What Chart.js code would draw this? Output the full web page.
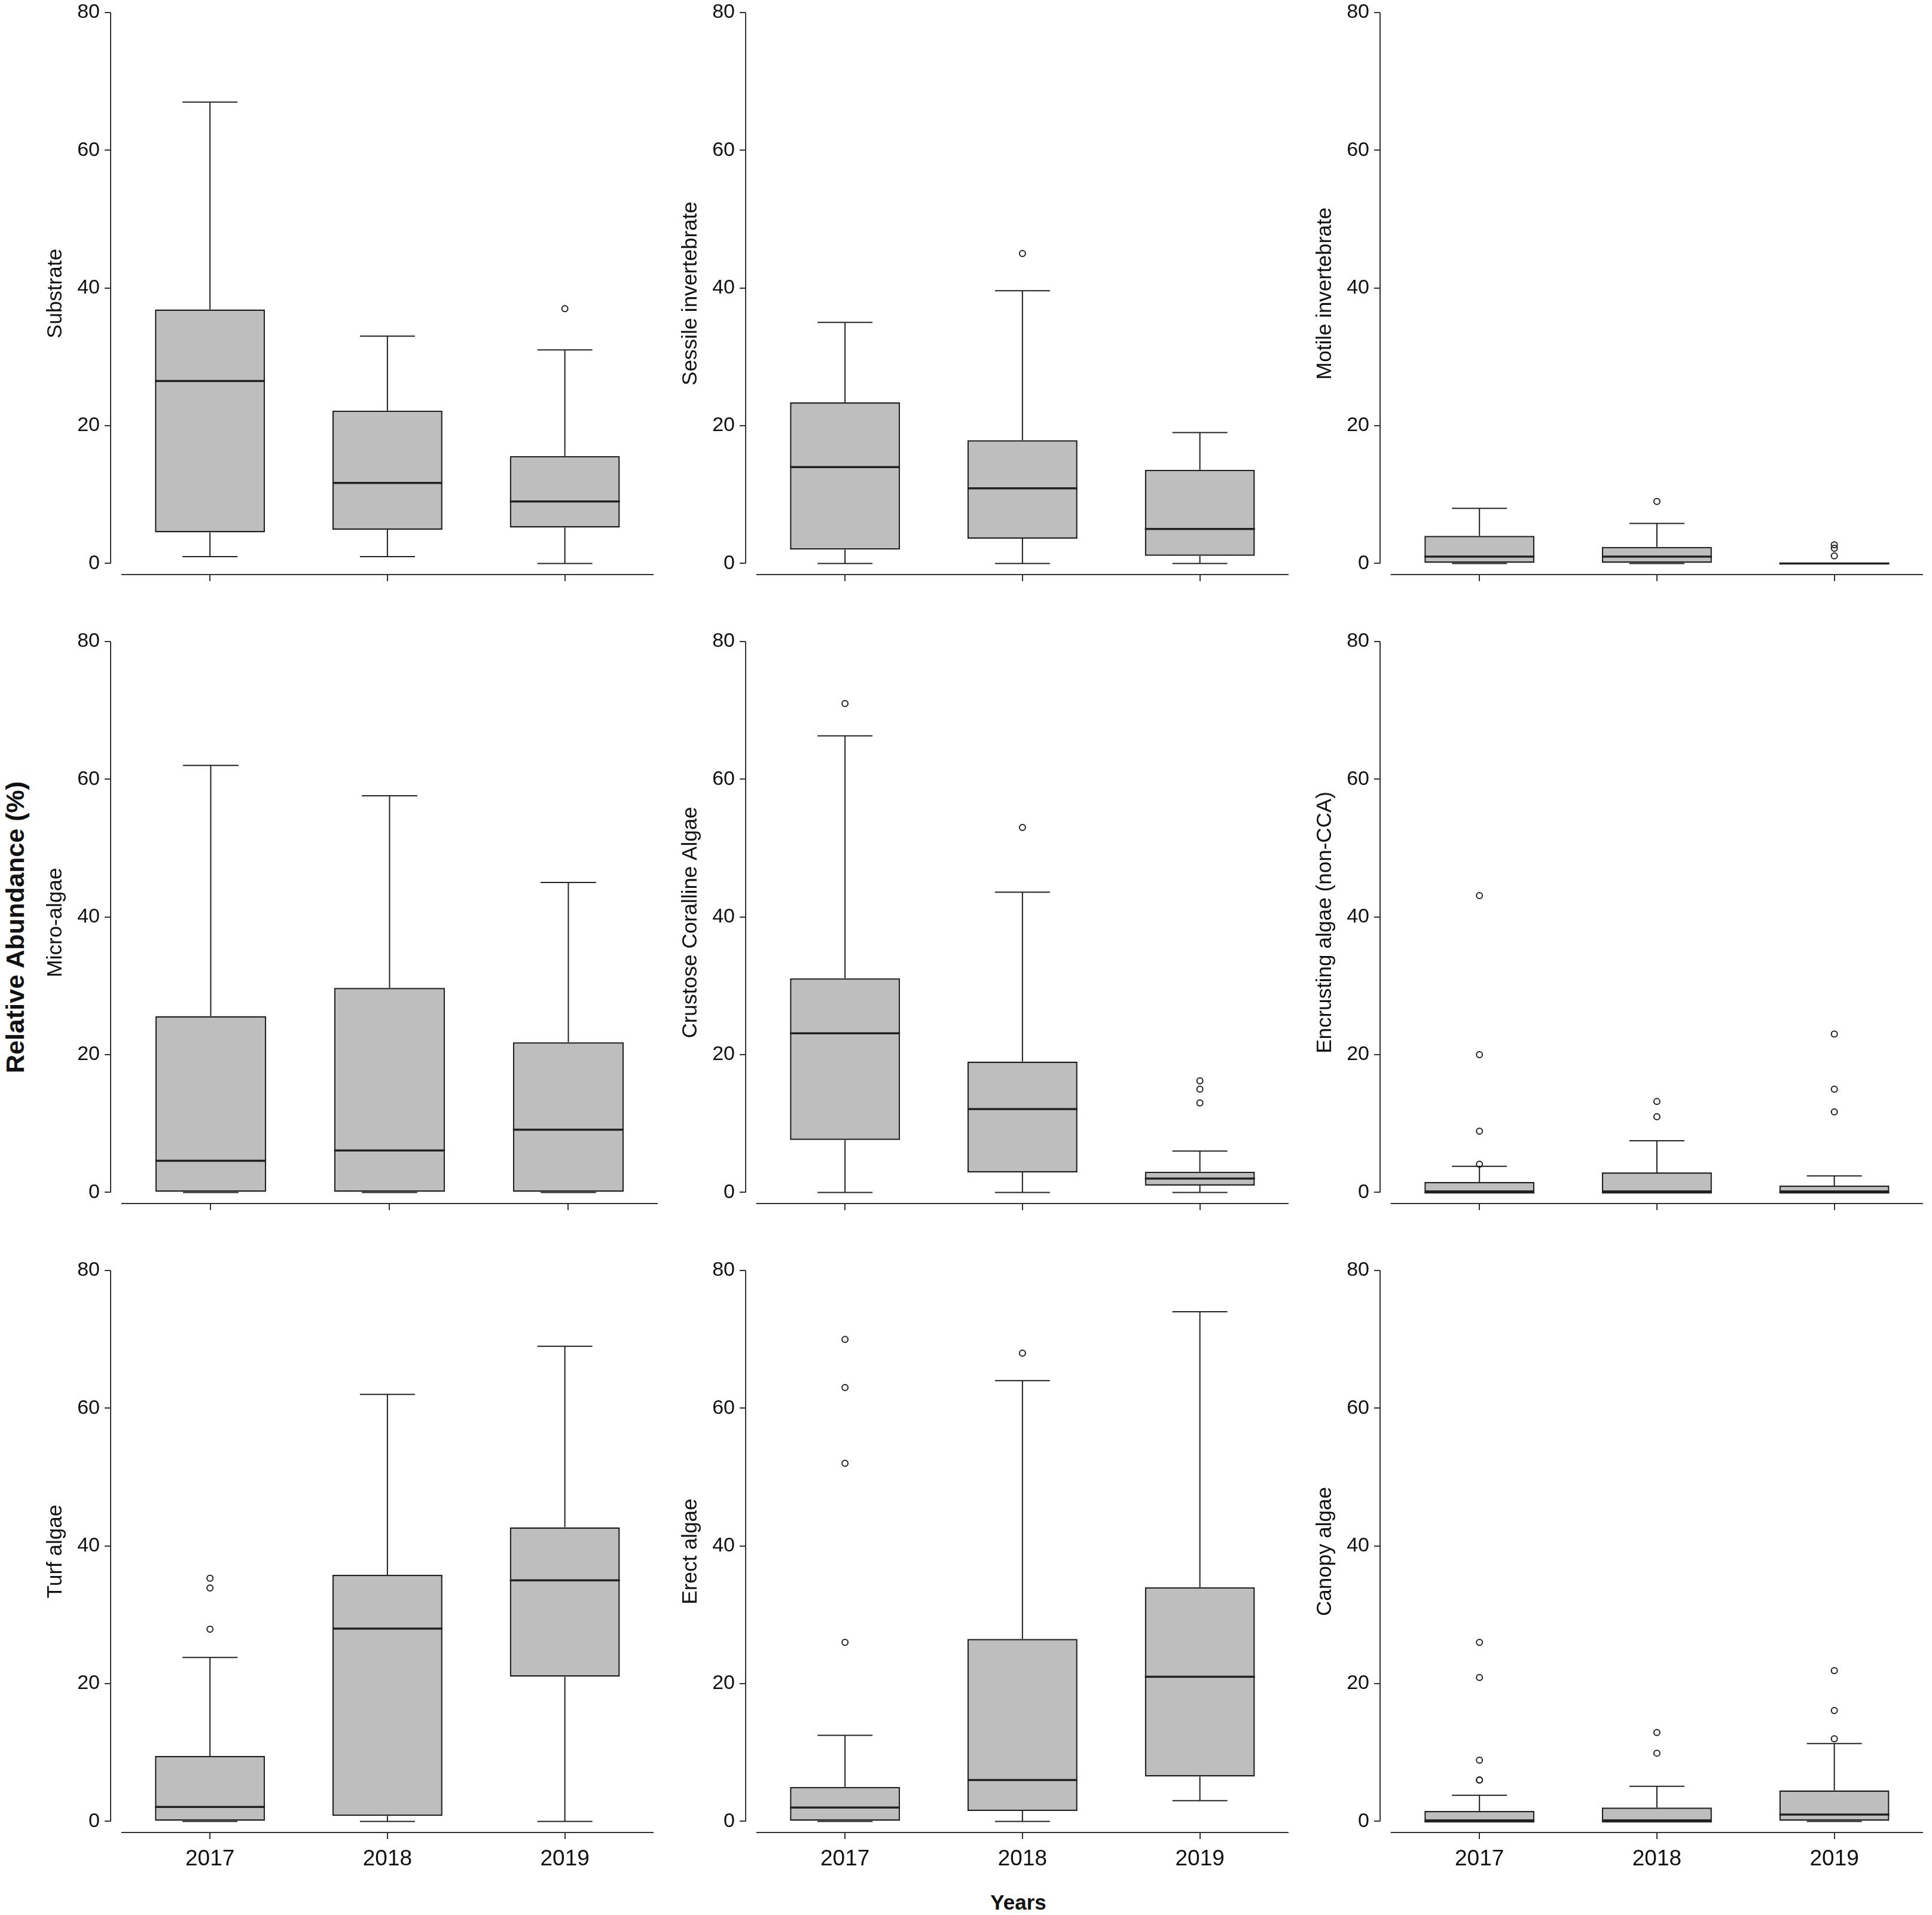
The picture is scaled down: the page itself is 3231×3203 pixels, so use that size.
<!DOCTYPE html>
<html>
<head>
<meta charset="utf-8">
<script src="https://cdn.jsdelivr.net/npm/chart.js@4.4.1/dist/chart.umd.min.js"></script>
<style>
body { margin:0; background:#fff; width:3231px; height:3203px; position:relative; overflow:hidden; font-family:"Liberation Sans", Arial, sans-serif; }
canvas { position:absolute; }
.label { position:absolute; font-weight:bold; white-space:nowrap; line-height:1; color:#111; transform:translate(-50%,-50%); }
</style>
</head>
<body>
<div class="label" style="left:25px; top:1551px; font-size:43px; transform:translate(-50%,-50%) rotate(-90deg);">Relative Abundance (%)</div>
<div class="label" style="left:1703px; top:3181px; font-size:35px;">Years</div>
<script>
const years = ['2017', '2018', '2019'];
const panelTitles = ['Substrate', 'Sessile invertebrate', 'Motile invertebrate',
                     'Micro-algae', 'Crustose Coralline Algae', 'Encrusting algae (non-CCA)',
                     'Turf algae', 'Erect algae', 'Canopy algae'];
const yTicks = [0, 20, 40, 60, 80];

// one row per panel, one value per year
const whiskerLow = [[1, 1, 0], [0, 0, 0], [0, 0, 0],
                    [0, 0, 0], [0, 0, 0], [0, 0, 0],
                    [0, 0, 0], [0, 0, 3], [0, 0, 0]];
const q1 = [[4.5, 4.9, 5.2], [2, 3.6, 1.1], [0, 0, 0],
            [0, 0, 0], [7.6, 2.9, 1], [0, 0, 0],
            [0, 0.8, 21], [0, 1.5, 6.5], [0, 0, 0]];
const median = [[26.5, 11.7, 9], [14, 10.9, 5], [1, 1, 0],
                [4.6, 6.1, 9.1], [23.1, 12.1, 2], [0, 0, 0],
                [2.1, 28, 35], [2, 6, 21], [0, 0, 1]];
const q3 = [[36.9, 22.2, 15.6], [23.4, 17.9, 13.6], [4, 2.4, 0],
            [25.6, 29.7, 21.8], [31.1, 19, 3], [1.5, 2.9, 1],
            [9.5, 35.8, 42.7], [5, 26.5, 34], [1.5, 2, 4.5]];
const whiskerHigh = [[67, 33, 31], [35, 39.6, 19], [8, 5.8, 0],
                     [62, 57.6, 45], [66.3, 43.6, 6], [3.8, 7.5, 2.4],
                     [23.8, 62, 69], [12.5, 64, 74], [3.8, 5.1, 11.3]];
const outliers = [[[], [], [37]], [[], [45], []], [[], [9], [2.7, 2.2, 1.1]],
                  [[], [], []], [[71], [53], [16.2, 15, 13]], [[43.1, 20, 8.9, 4.1], [13.2, 11], [23, 15, 11.7]],
                  [[35.3, 33.9, 27.9], [], []], [[70, 63, 52, 26], [68], []], [[26, 20.9, 8.9, 6, 6], [12.9, 9.9], [21.9, 16.1, 12]]];

Chart.defaults.font.family = '"Liberation Sans", Arial, sans-serif';

const AXIS_W = 130;
const PLOT_W = 915;
const PLOT_H = 940;
const colX = [185, 1246.5, 2308];
const rowTop = [20.6, 1072.6, 2124.6];
const lineColor = '#222';

function boxPlugin(p) {
    return {
        id: 'boxparts',
        beforeDatasetsDraw(chart) {
            const ctx = chart.ctx;
            const x = chart.scales.x, y = chart.scales.y;
            const bars = chart.getDatasetMeta(0).data;
            ctx.save();
            ctx.strokeStyle = lineColor;
            ctx.lineWidth = 2;
            for (let i = 0; i < years.length; i++) {
                const cx = x.getPixelForValue(i + 1);
                const cap = bars[i].width / 4;
                ctx.beginPath();
                ctx.moveTo(cx, y.getPixelForValue(q3[p][i]));
                ctx.lineTo(cx, y.getPixelForValue(whiskerHigh[p][i]));
                ctx.moveTo(cx, y.getPixelForValue(q1[p][i]));
                ctx.lineTo(cx, y.getPixelForValue(whiskerLow[p][i]));
                ctx.moveTo(cx - cap, y.getPixelForValue(whiskerHigh[p][i]));
                ctx.lineTo(cx + cap, y.getPixelForValue(whiskerHigh[p][i]));
                ctx.moveTo(cx - cap, y.getPixelForValue(whiskerLow[p][i]));
                ctx.lineTo(cx + cap, y.getPixelForValue(whiskerLow[p][i]));
                ctx.stroke();
            }
            ctx.restore();
        },
        afterDatasetsDraw(chart) {
            const ctx = chart.ctx;
            const x = chart.scales.x, y = chart.scales.y;
            const bars = chart.getDatasetMeta(0).data;
            ctx.save();
            ctx.strokeStyle = lineColor;
            ctx.lineWidth = 3.5;
            for (let i = 0; i < years.length; i++) {
                const cx = x.getPixelForValue(i + 1);
                const half = bars[i].width / 2;
                ctx.beginPath();
                ctx.moveTo(cx - half, y.getPixelForValue(median[p][i]));
                ctx.lineTo(cx + half, y.getPixelForValue(median[p][i]));
                ctx.stroke();
            }
            // R style detached axes
            const area = chart.chartArea;
            ctx.strokeStyle = '#333';
            ctx.lineWidth = 2;
            ctx.beginPath();
            ctx.moveTo(area.left, y.getPixelForValue(0));
            ctx.lineTo(area.left, y.getPixelForValue(80));
            ctx.moveTo(x.getPixelForValue(0.5), area.bottom);
            ctx.lineTo(x.getPixelForValue(3.5), area.bottom);
            ctx.stroke();
            ctx.restore();
        }
    };
}

function zeroPadding(s) {
    s.paddingLeft = 0;
    s.paddingRight = 0;
    s.paddingTop = 0;
    s.paddingBottom = 0;
}

function drawPanel(p) {
    const row = Math.floor(p / 3), col = p % 3;
    const bottomRow = row == 2;
    const xH = bottomRow ? 90 : 40;
    const canvas = document.createElement('canvas');
    canvas.width = AXIS_W + PLOT_W;
    canvas.height = 20 + PLOT_H + xH;
    canvas.style.width = canvas.width + 'px';
    canvas.style.height = canvas.height + 'px';
    canvas.style.left = (colX[col] - AXIS_W) + 'px';
    canvas.style.top = (rowTop[row] - 20) + 'px';
    document.body.appendChild(canvas);

    const boxes = years.map((yr, i) => ({ x: i + 1, y: [q1[p][i], q3[p][i]] }));
    const points = [];
    outliers[p].forEach((list, i) => list.forEach(v => points.push({ x: i + 1, y: v })));

    new Chart(canvas, {
        type: 'bar',
        data: {
            datasets: [{
                type: 'bar',
                data: boxes,
                backgroundColor: '#bebebe',
                borderColor: lineColor,
                borderWidth: 2.5,
                borderSkipped: false,
                barPercentage: 0.62,
                categoryPercentage: 1
            }, {
                type: 'scatter',
                data: points,
                pointStyle: 'circle',
                pointRadius: 5,
                pointBorderWidth: 2,
                pointBorderColor: lineColor,
                pointBackgroundColor: 'rgba(0,0,0,0)'
            }]
        },
        options: {
            responsive: false,
            animation: false,
            devicePixelRatio: 1,
            layout: { padding: { top: 20, left: 0, right: 0, bottom: 0 } },
            plugins: { legend: { display: false }, tooltip: { enabled: false } },
            scales: {
                x: {
                    type: 'linear',
                    min: 0.44,
                    max: 3.5,
                    offset: false,
                    afterBuildTicks: s => { s.ticks = [1, 2, 3].map(v => ({ value: v })); },
                    afterFit: s => { s.height = xH; zeroPadding(s); },
                    grid: { offset: false, drawOnChartArea: false, drawTicks: true, tickLength: 11, color: '#333', lineWidth: 2 },
                    border: { display: false },
                    ticks: { display: bottomRow, padding: 12, font: { size: 37 }, color: '#111', callback: v => years[v - 1] }
                },
                y: {
                    min: -1.615,
                    max: 80,
                    afterBuildTicks: s => { s.ticks = yTicks.map(v => ({ value: v })); },
                    afterFit: s => { s.width = AXIS_W; zeroPadding(s); },
                    grid: { offset: false, drawOnChartArea: false, drawTicks: true, tickLength: 10, color: '#333', lineWidth: 2 },
                    border: { display: false },
                    ticks: { padding: 8, font: { size: 34 }, color: '#111', callback: v => String(v) },
                    title: { display: true, text: panelTitles[p], font: { size: 35 }, color: '#111', padding: { top: 17, bottom: 0 } }
                }
            }
        },
        plugins: [boxPlugin(p)]
    });
}

for (let p = 0; p < 9; p++) {
    drawPanel(p);
}
</script>
</body>
</html>
